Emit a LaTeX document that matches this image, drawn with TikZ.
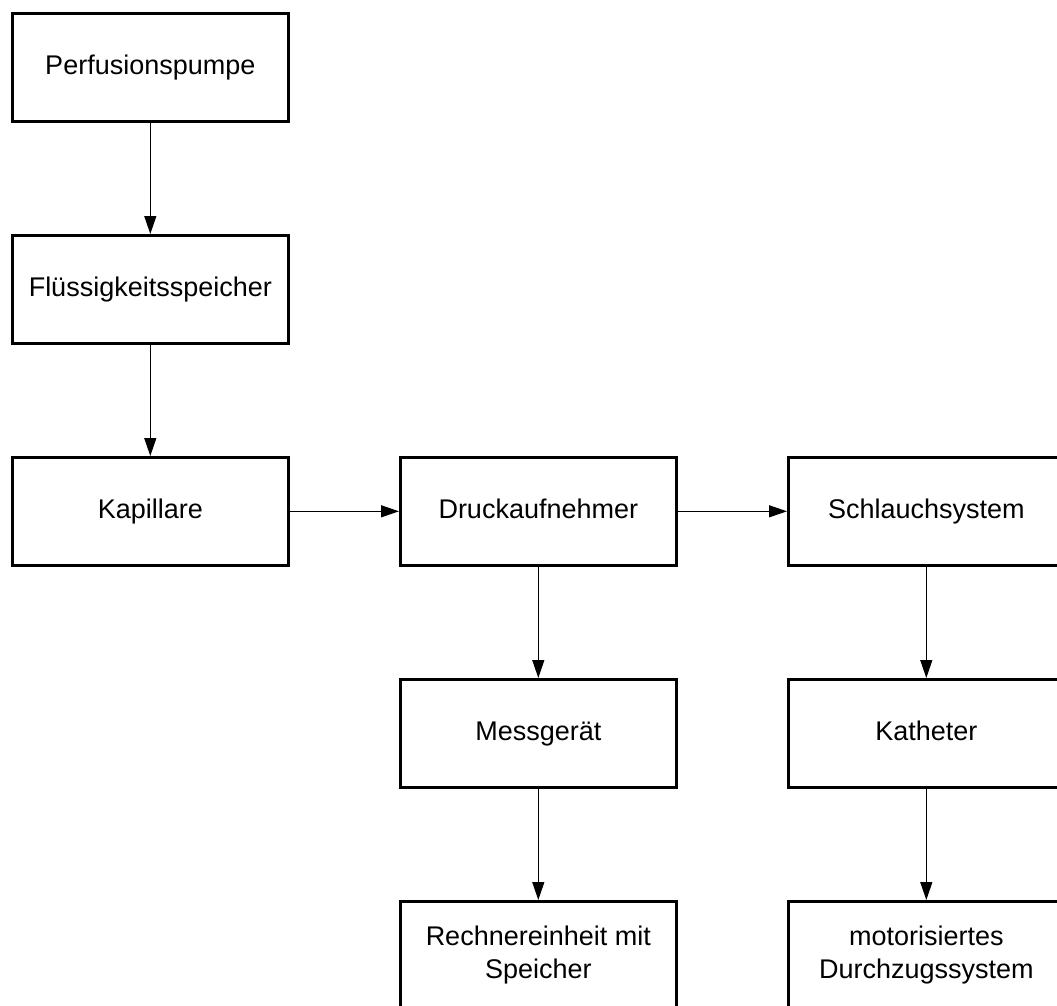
\documentclass[tikz,border=0pt]{standalone}
\usepackage{fontspec}
\setmainfont{Liberation Sans}
\usetikzlibrary{arrows.meta}
\begin{document}
\begin{tikzpicture}[x=1pt,y=-1pt,
  box/.style={draw=black, line width=2.6pt, minimum width=276pt, minimum height=108pt,
    inner sep=0pt, align=center, text height=20pt, text depth=6pt,
    font=\fontsize{27}{33}\selectfont, anchor=north west},
  twoline/.style={text height=, text depth=},
  link/.style={line width=1.2pt, -{Triangle[length=18pt,width=12pt]}}]
  \useasboundingbox (0,0) rectangle (1057,1005);
  \clip (0,0) rectangle (1057,1005);
  \fill[white] (0,0) rectangle (1057,1005);
  % first column
  \node[box] (pump) at (11,12) {Perfusionspumpe};
  \node[box] (store) at (11,234) {Flüssigkeitsspeicher};
  \node[box] (cap) at (11,456) {Kapillare};
  % second column
  \node[box] (press) at (399,456) {Druckaufnehmer};
  \node[box] (meter) at (399,678) {Messgerät};
  \node[box,twoline] (cpu) at (399,900) {Rechnereinheit mit\\Speicher};
  % third column
  \node[box] (tube) at (787,456) {Schlauchsystem};
  \node[box] (cath) at (787,678) {Katheter};
  \node[box,twoline] (pull) at (787,900) {motorisiertes\\Durchzugssystem};
  % connectors
  \draw[link] (pump.south) -- (store.north);
  \draw[link] (store.south) -- (cap.north);
  \draw[link] (cap.east) -- (press.west);
  \draw[link] (press.east) -- (tube.west);
  \draw[link] (press.south) -- (meter.north);
  \draw[link] (meter.south) -- (cpu.north);
  \draw[link] (tube.south) -- (cath.north);
  \draw[link] (cath.south) -- (pull.north);
\end{tikzpicture}
\end{document}
